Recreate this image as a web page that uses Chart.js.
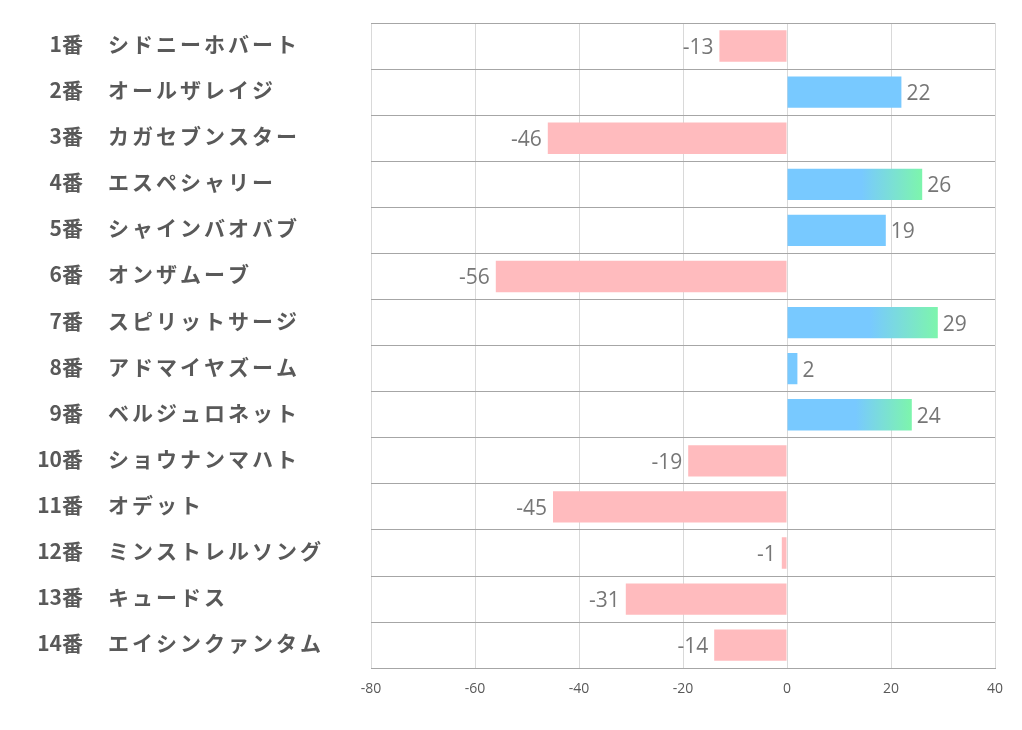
<!DOCTYPE html>
<html>
<head>
<meta charset="utf-8">
<script src="https://cdn.jsdelivr.net/npm/chart.js@4/dist/chart.umd.min.js"></script>
<style>
  html, body { margin: 0; padding: 0; background: #fff; }
  #wrap { width: 1022px; height: 730px; }
</style>
</head>
<body>
<div id="wrap"><canvas id="myChart"></canvas></div>
<script>
// horse numbers and names
var numbers = ['1番','2番','3番','4番','5番','6番','7番','8番','9番','10番','11番','12番','13番','14番'];
var names = ['シドニーホバート','オールザレイジ','カガセブンスター','エスペシャリー','シャインバオバブ','オンザムーブ',
  'スピリットサージ','アドマイヤズーム','ベルジュロネット','ショウナンマハト','オデット','ミンストレルソング','キュードス','エイシンクァンタム'];
var values = [-13, 22, -46, 26, 19, -56, 29, 2, 24, -19, -45, -1, -31, -14];
var xTicks = [-80, -60, -40, -20, 0, 20, 40];

// top three get the gradient
var sorted = values.slice().sort(function (a, b) { return b - a; });
var third = sorted[2];

var labelPlugin = {
  id: 'rowLabels',
  afterDraw: function (chart) {
    var ctx = chart.ctx;
    var y = chart.scales.y;
    ctx.save();
    ctx.fillStyle = '#595959';
    ctx.textBaseline = 'middle';
    for (var i = 0; i < numbers.length; i++) {
      var py = y.getPixelForValue(i) - 2;
      ctx.font = 'bold 21px "Noto Sans CJK JP"';
      ctx.letterSpacing = '0px';
      ctx.textAlign = 'right';
      ctx.fillText(numbers[i], 83, py);
      ctx.letterSpacing = '3px';
      ctx.textAlign = 'left';
      ctx.fillText(names[i], 108, py);
    }
    ctx.letterSpacing = '0px';
    // data labels
    var meta = chart.getDatasetMeta(0);
    ctx.font = '21px "Open Sans"';
    ctx.fillStyle = '#767676';
    meta.data.forEach(function (bar, i) {
      var v = values[i];
      if (v < 0) {
        ctx.textAlign = 'right';
        ctx.fillText(String(v), bar.x - 6, bar.y + 2);
      } else {
        ctx.textAlign = 'left';
        ctx.fillText(String(v), bar.x + 5, bar.y + 2);
      }
    });
    ctx.restore();
  }
};

var ctx = document.getElementById('myChart');
var chart = new Chart(ctx, {
  type: 'bar',
  data: {
    labels: numbers,
    datasets: [{
      data: values,
      backgroundColor: function (c) {
        var v = values[c.dataIndex];
        if (v < 0) return '#FFBBBE';
        if (v < third) return '#78C9FF';
        var area = c.chart.chartArea;
        if (!area) return '#78C9FF';
        var xs = c.chart.scales.x;
        var x0 = xs.getPixelForValue(0);
        var x1 = xs.getPixelForValue(v);
        var g = c.chart.ctx.createLinearGradient(x0, 0, x1, 0);
        g.addColorStop(0, '#78C9FF');
        g.addColorStop(0.55, '#78C9FF');
        g.addColorStop(1, '#7DF5AC');
        return g;
      },
      borderWidth: 0,
      categoryPercentage: 0.68,
      barPercentage: 1
    }]
  },
  options: {
    indexAxis: 'y',
    responsive: true,
    maintainAspectRatio: false,
    animation: false,
    layout: { padding: { left: 371, right: 27, top: 23, bottom: 21 } },
    plugins: { legend: { display: false }, tooltip: { enabled: false } },
    scales: {
      x: {
        min: -80, max: 40,
        afterBuildTicks: function (s) { s.ticks = xTicks.map(function (v) { return { value: v }; }); },
        grid: { color: '#d9d9d9', drawTicks: false },
        border: { display: true, color: '#a6a6a6' },
        ticks: { color: '#595959', font: { size: 14, family: 'Open Sans' }, padding: 12 }
      },
      y: {
        grid: { color: '#a6a6a6', drawTicks: false, offset: true },
        border: { display: false },
        ticks: { display: false }
      }
    }
  },
  plugins: [labelPlugin]
});
</script>
</body>
</html>
